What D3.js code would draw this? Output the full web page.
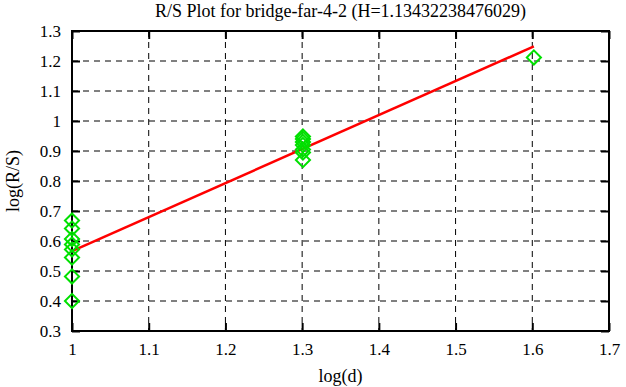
<!DOCTYPE html>
<html><head><meta charset="utf-8">
<script src="https://cdn.jsdelivr.net/npm/d3@7"></script>
<style>body{margin:0;background:#fff}svg{display:block}text{font-family:"Liberation Serif","Times New Roman",serif;fill:#000}</style>
</head><body><svg id="c" width="626" height="387"></svg>
<script>
const title = "R/S Plot for bridge-far-4-2 (H=1.13432238476029)";
const xLabel = "log(d)";
const yLabel = "log(R/S)";
const xTicks = [1, 1.1, 1.2, 1.3, 1.4, 1.5, 1.6, 1.7];
const yTicks = [0.3, 0.4, 0.5, 0.6, 0.7, 0.8, 0.9, 1, 1.1, 1.2, 1.3];
const pointX = [1,1,1,1,1,1,1,1, 1.30103,1.30103,1.30103,1.30103,1.30103,1.30103,1.30103, 1.60206];
const pointY = [0.668,0.642,0.607,0.588,0.572,0.545,0.482,0.400, 0.948,0.940,0.930,0.920,0.905,0.895,0.870, 1.212];
const H = 1.13432238476029;
const intercept = 0.566;
const fitX = [1, 1.60206];

const svg = d3.select("#c");
const L = 72, R = 609, T = 31, B = 331;
const x = d3.scaleLinear().domain([1, 1.7]).range([L, R]);
const y = d3.scaleLinear().domain([0.3, 1.3]).range([B, T]);

// grid
const g = svg.append("g");
g.selectAll(".gx").data(xTicks.slice(1, -1)).join("line")
  .attr("x1", d => x(d)).attr("x2", d => x(d)).attr("y1", T).attr("y2", B)
  .attr("stroke", "#000").attr("stroke-width", 1).attr("stroke-dasharray", "6,5");
g.selectAll(".gy").data(yTicks.slice(1, -1)).join("line")
  .attr("x1", L).attr("x2", R).attr("y1", d => y(d)).attr("y2", d => y(d))
  .attr("stroke", "#000").attr("stroke-width", 1).attr("stroke-dasharray", "6,5");

// axes with inward ticks
const tl = 8;
svg.append("g").attr("transform", `translate(0,${B})`)
  .call(d3.axisBottom(x).tickValues(xTicks).tickSize(-tl).tickPadding(12).tickFormat(d3.format("~g")))
  .call(a => a.select(".domain").remove())
  .call(a => a.selectAll("line").attr("stroke-width", 2))
  .call(a => a.selectAll("text").attr("font-size", 17).attr("font-family", "Liberation Serif"));
svg.append("g").attr("transform", `translate(0,${T})`)
  .call(d3.axisTop(x).tickValues(xTicks).tickSize(-tl).tickFormat(""))
  .call(a => a.select(".domain").remove())
  .call(a => a.selectAll("line").attr("stroke-width", 2));
svg.append("g").attr("transform", `translate(${L},0)`)
  .call(d3.axisLeft(y).tickValues(yTicks).tickSize(-tl).tickPadding(11).tickFormat(d3.format("~g")))
  .call(a => a.select(".domain").remove())
  .call(a => a.selectAll("line").attr("stroke-width", 2))
  .call(a => a.selectAll("text").attr("font-size", 17).attr("font-family", "Liberation Serif"));
svg.append("g").attr("transform", `translate(${R},0)`)
  .call(d3.axisRight(y).tickValues(yTicks).tickSize(-tl).tickFormat(""))
  .call(a => a.select(".domain").remove())
  .call(a => a.selectAll("line").attr("stroke-width", 2));

svg.append("rect").attr("x", L).attr("y", T).attr("width", R - L).attr("height", B - T)
  .attr("fill", "none").attr("stroke", "#000").attr("stroke-width", 2);

// fit line
svg.append("line")
  .attr("x1", x(fitX[0])).attr("y1", y(intercept + H * (fitX[0] - 1)))
  .attr("x2", x(fitX[1])).attr("y2", y(intercept + H * (fitX[1] - 1)))
  .attr("stroke", "#ff0000").attr("stroke-width", 2.5);

// points
const sym = d3.symbol().type(d3.symbolSquare).size(100);
svg.selectAll(".pt").data(pointX.map((d, i) => [d, pointY[i]])).join("path")
  .attr("d", sym)
  .attr("transform", d => `translate(${x(d[0])},${y(d[1])}) rotate(45)`)
  .attr("fill", "none").attr("stroke", "#00e000").attr("stroke-width", 2);

// texts
svg.append("text").attr("x", (L + R) / 2).attr("y", 17).attr("text-anchor", "middle")
  .attr("font-size", 18).text(title);
svg.append("text").attr("x", (L + R) / 2).attr("y", 382).attr("text-anchor", "middle")
  .attr("font-size", 18).text(xLabel);
svg.append("text").attr("transform", `translate(19,${(T + B) / 2}) rotate(-90)`).attr("text-anchor", "middle")
  .attr("font-size", 18).text(yLabel);
</script></body></html>
